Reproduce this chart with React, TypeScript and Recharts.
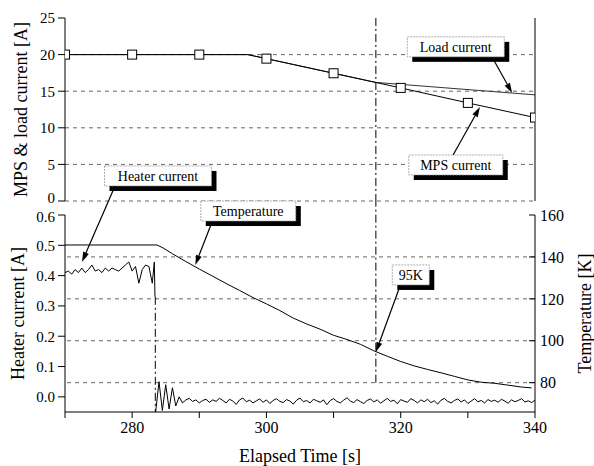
import { LineChart, Line, XAxis, YAxis, ReferenceLine, ReferenceDot } from "recharts";

const W = 594;
const H = 466;

// top panel: MPS & load current [A]
const mpsTime = [270, 280, 290, 297.2, 300, 310, 320, 330, 340];
const mpsCurrent = [20, 20, 20, 20, 19.45, 17.45, 15.45, 13.4, 11.4];
const loadTime = [270, 297.2, 316.3, 340];
const loadCurrent = [20, 20, 16.2, 14.5];

// bottom panel: temperature [K]
const tempTime = [270, 283.7, 284.6, 286, 288, 290, 292, 294, 296, 298, 300, 302, 304, 306, 308, 310, 312, 314, 316, 318, 320, 322, 324, 326, 328, 330, 332, 334, 336, 338, 339.5];
const tempK = [145.7, 145.7, 144.3, 141.5, 137.8, 134.2, 130.8, 127.3, 124, 120.6, 117.6, 114.4, 110.8, 108, 105.5, 102.6, 100.6, 98.3, 95.2, 92.6, 90.1, 88, 86.3, 84.7, 83, 81.3, 80.2, 79.7, 78.8, 77.9, 77.5];

// bottom panel: heater current [A], sampled every 0.5 s
const heaterStep = 0.5;
const heaterOnStart = 270;
const heaterOn = [0.41, 0.415, 0.405, 0.42, 0.41, 0.425, 0.41, 0.42, 0.435, 0.415, 0.42, 0.41, 0.425, 0.415, 0.425, 0.42, 0.415, 0.425, 0.435, 0.445, 0.415, 0.43, 0.375, 0.42, 0.435, 0.43, 0.375];
const heaterCutTime = [283.3, 283.4];
const heaterCutValue = [0.445, 0.33];
const heaterOffStart = 283.5;
const heaterOff = [
  -0.05, 0.05, -0.045, 0.04, -0.04, 0.03, -0.03, 0.0, -0.02, -0.01,
  -0.005, -0.015, -0.01, -0.02, -0.012, -0.008, -0.018, -0.01, -0.015, -0.005,
  -0.012, -0.02, -0.008, -0.014, -0.025, -0.01, -0.004, -0.016, -0.011, -0.02,
  -0.013, -0.007, -0.018, -0.01, -0.022, -0.012, -0.006, -0.015, -0.019, -0.009,
  -0.014, -0.024, -0.011, -0.004, -0.016, -0.012, -0.02, -0.008, -0.013, -0.018,
  -0.01, -0.026, -0.012, -0.006, -0.015, -0.02, -0.011, -0.003, -0.014, -0.019,
  -0.009, -0.016, -0.022, -0.012, -0.007, -0.017, -0.01, -0.021, -0.013, -0.005,
  -0.015, -0.011, -0.023, -0.009, -0.014, -0.018, -0.006, -0.012, -0.02, -0.01,
  -0.016, -0.008, -0.019, -0.013, -0.024, -0.011, -0.005, -0.015, -0.02, -0.012,
  -0.007, -0.017, -0.01, -0.022, -0.014, -0.006, -0.016, -0.012, -0.02, -0.009,
  -0.015, -0.011, -0.018, -0.008, -0.014, -0.021, -0.01, -0.016, -0.012, -0.006,
  -0.017, -0.013, -0.019, -0.011,
];

const quenchTime = 316.3; // 95 K
const cutLineTime = 283.45;

const topTicks = [0, 5, 10, 15, 20, 25];
const topMinorTicks = [0, 2.5, 5, 7.5, 10, 12.5, 15, 17.5, 20, 22.5, 25];
const heaterTicks = [0, 0.1, 0.2, 0.3, 0.4, 0.5, 0.6];
const tempTicks = [80, 100, 120, 140, 160];
const timeTicks = [270, 280, 290, 300, 310, 320, 330, 340];
const timeLabels = [280, 300, 320, 340];
const timeMinorTicks = [280, 290, 300, 310, 320, 330];

const mpsData = mpsTime.map((t, i) => ({ t, v: mpsCurrent[i] }));
const loadData = loadTime.map((t, i) => ({ t, v: loadCurrent[i] }));
const tempData = tempTime.map((t, i) => ({ t, T: tempK[i] }));
const heaterOnData = [
  ...heaterOn.map((h, i) => ({ t: heaterOnStart + i * heaterStep, h })),
  ...heaterCutTime.map((t, i) => ({ t, h: heaterCutValue[i] })),
];
const heaterOffData = heaterOff.map((h, i) => ({ t: heaterOffStart + i * heaterStep, h }));

const grid = { stroke: "#666", strokeDasharray: "4 4", strokeWidth: 1 };
const tickFont = { fill: "#000", fontSize: 15 };

// left tick labels; the two labels where the panels meet are nudged apart a little
const leftTick = (edgeValue: number, shift: number, fmt: (v: number) => string) => (p: any) => {
  const v = p.payload.value;
  const dy = v === edgeValue ? shift : 0;
  return (
    <text x={p.x} y={p.y + dy} dy="0.355em" textAnchor="end" fontSize={15} fill="#000">{fmt(v)}</text>
  );
};

function Callout({ cx, cy, text, w }: any) {
  const h = 20;
  return (
    <g>
      <rect x={cx - w / 2 + 5} y={cy - h / 2 + 5} width={w} height={h} fill="#000" />
      <rect x={cx - w / 2} y={cy - h / 2} width={w} height={h} fill="#fff" stroke="#999" strokeWidth={0.8} strokeDasharray="2 1" />
      <text x={cx} y={cy + 5} textAnchor="middle" fontSize={14} fill="#000">{text}</text>
    </g>
  );
}

const callout = (text: string, w: number) => (p: any) => <Callout cx={p.cx} cy={p.cy} text={text} w={w} />;

const arrow = (p: any) => {
  const { x1, y1, x2, y2 } = p;
  const a = Math.atan2(y2 - y1, x2 - x1);
  const len = 10;
  const half = 3;
  const bx = x2 - len * Math.cos(a);
  const by = y2 - len * Math.sin(a);
  const pts = `${x2},${y2} ${bx + half * Math.sin(a)},${by - half * Math.cos(a)} ${bx - half * Math.sin(a)},${by + half * Math.cos(a)}`;
  return (
    <g>
      <line x1={x1} y1={y1} x2={bx} y2={by} stroke="#000" strokeWidth={1.2} />
      <polygon points={pts} fill="#000" />
    </g>
  );
};

const squareDot = (p: any) => {
  const { cx, cy, payload } = p;
  if (payload.t % 10 !== 0) return <g key={`d-${payload.t}`} />;
  return <rect key={`d-${payload.t}`} x={cx - 4.5} y={cy - 4.5} width={9} height={9} fill="#fff" stroke="#000" strokeWidth={1} />;
};

export default function App() {
  return (
    <div style={{ position: "absolute", left: 0, top: 0, width: W, height: H, background: "#fff", fontFamily: "'Liberation Serif', 'DejaVu Serif', serif" }}>
      {/* upper panel */}
      <div style={{ position: "absolute", left: 0, top: 0 }}>
        <LineChart width={W} height={H} margin={{ top: 18, right: 0, bottom: H - 201, left: 0 }}>
          <XAxis xAxisId="x" type="number" dataKey="t" domain={[270, 340]} ticks={timeMinorTicks} orientation="top" height={0} tick={false} tickSize={-6} stroke="#000" allowDataOverflow />
          <YAxis yAxisId="v" domain={[0, 25]} ticks={topTicks} width={65} tickSize={7} tickMargin={3} stroke="#000"
            tick={leftTick(0, -3, (v) => String(v))}
            label={{ value: "MPS & load current [A]", angle: -90, position: "center", dx: -12, fontSize: 18, fill: "#000" }} />
          <YAxis yAxisId="r" orientation="right" domain={[0, 25]} ticks={topMinorTicks} width={59} tickSize={-5} tick={false} stroke="#000" />
          {[0, 5, 10, 15, 20].map((v) => (
            <ReferenceLine key={`g${v}`} xAxisId="x" yAxisId="v" y={v} {...grid} />
          ))}
          <ReferenceLine xAxisId="x" yAxisId="v" x={quenchTime} stroke="#000" strokeWidth={1} strokeDasharray="8 3 2 3" />
          <Line xAxisId="x" yAxisId="v" data={loadData} dataKey="v" stroke="#333" strokeWidth={1} dot={false} isAnimationActive={false} />
          <Line xAxisId="x" yAxisId="v" data={mpsData} dataKey="v" stroke="#000" strokeWidth={1} dot={squareDot} isAnimationActive={false} />
          <ReferenceDot xAxisId="x" yAxisId="v" x={283.85} y={3.42} ifOverflow="visible" shape={callout("Heater current", 107)} />
          <ReferenceDot xAxisId="x" yAxisId="v" x={328.2} y={21.06} ifOverflow="visible" shape={callout("Load current", 97)} />
          <ReferenceDot xAxisId="x" yAxisId="v" x={328.2} y={4.92} ifOverflow="visible" shape={callout("MPS current", 94)} />
          <ReferenceLine xAxisId="x" yAxisId="v" ifOverflow="visible" segment={[{ x: 333.6, y: 19.67 }, { x: 336.6, y: 14.75 }]} shape={arrow} />
          <ReferenceLine xAxisId="x" yAxisId="v" ifOverflow="visible" segment={[{ x: 327.8, y: 6.28 }, { x: 331.8, y: 12.84 }]} shape={arrow} />
        </LineChart>
      </div>
      {/* lower panel */}
      <div style={{ position: "absolute", left: 0, top: 0 }}>
        <LineChart width={W} height={H} margin={{ top: 215, right: 0, bottom: 0, left: 0 }}>
          <XAxis xAxisId="x" type="number" dataKey="t" domain={[270, 340]} ticks={timeTicks} height={54} tickSize={6} tickMargin={4} tick={{ fill: "#000", fontSize: 16 }} stroke="#000" allowDataOverflow
            tickFormatter={(v: number) => (timeLabels.includes(v) ? String(v) : "")}
            label={{ value: "Elapsed Time [s]", position: "insideBottom", offset: 4, fontSize: 18, fill: "#000" }} />
          <YAxis yAxisId="h" domain={[-0.05, 0.6]} ticks={heaterTicks} width={65} tickSize={7} tickMargin={3} stroke="#000" allowDataOverflow
            tick={leftTick(0.6, 2, (v) => v.toFixed(1))}
            label={{ value: "Heater current [A]", angle: -90, position: "center", dx: -15, fontSize: 18, fill: "#000" }} />
          <YAxis yAxisId="T" orientation="right" domain={[66, 160]} ticks={tempTicks} width={59} tickSize={-6} tickMargin={11} tick={{ fill: "#000", fontSize: 16 }} stroke="#000" allowDataOverflow
            label={{ value: "Temperature [K]", angle: -90, position: "center", dx: 20, fontSize: 18, fill: "#000" }} />
          {[80, 100, 120, 140].map((v) => (
            <ReferenceLine key={`g${v}`} xAxisId="x" yAxisId="T" y={v} {...grid} />
          ))}
          <ReferenceLine xAxisId="x" yAxisId="T" ifOverflow="visible" segment={[{ x: quenchTime, y: 80 }, { x: quenchTime, y: 166.7 }]} stroke="#000" strokeWidth={1} strokeDasharray="8 3 2 3" />
          <ReferenceLine xAxisId="x" yAxisId="h" segment={[{ x: cutLineTime, y: 0.33 }, { x: cutLineTime, y: -0.05 }]} stroke="#000" strokeWidth={1} strokeDasharray="8 3 2 3" />
          <Line xAxisId="x" yAxisId="T" data={tempData} dataKey="T" stroke="#000" strokeWidth={1} dot={false} isAnimationActive={false} />
          <Line xAxisId="x" yAxisId="h" data={heaterOnData} dataKey="h" stroke="#000" strokeWidth={1} dot={false} isAnimationActive={false} />
          <Line xAxisId="x" yAxisId="h" data={heaterOffData} dataKey="h" stroke="#000" strokeWidth={1} dot={false} isAnimationActive={false} />
          <ReferenceDot xAxisId="x" yAxisId="T" x={297.3} y={161.9} ifOverflow="visible" shape={callout("Temperature", 95)} />
          <ReferenceDot xAxisId="x" yAxisId="T" x={321.5} y={131.4} ifOverflow="visible" shape={callout("95K", 37)} />
          <ReferenceLine xAxisId="x" yAxisId="h" ifOverflow="visible" segment={[{ x: 277.45, y: 0.696 }, { x: 272.53, y: 0.445 }]} shape={arrow} />
          <ReferenceLine xAxisId="x" yAxisId="T" ifOverflow="visible" segment={[{ x: 291.9, y: 156.7 }, { x: 289.4, y: 136.1 }]} shape={arrow} />
          <ReferenceLine xAxisId="x" yAxisId="T" ifOverflow="visible" segment={[{ x: 319.9, y: 126.1 }, { x: 316.3, y: 94.6 }]} shape={arrow} />
        </LineChart>
      </div>
    </div>
  );
}
